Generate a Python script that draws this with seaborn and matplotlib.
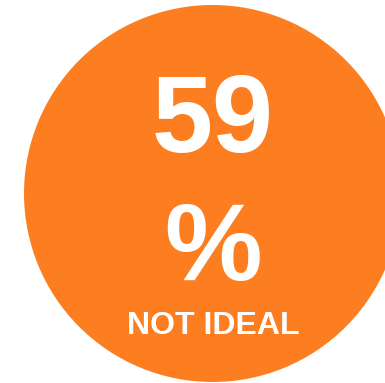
import matplotlib
matplotlib.use("Agg")
import matplotlib.pyplot as plt
import matplotlib.patches as mpatches
import seaborn as sns

# Headline figure for the badge
value = [59]
unit = ["%"]
status = ["NOT IDEAL"]
badge_color = "#fd7e20"

sns.set_theme(style="white")
plt.rcParams["font.family"] = ["Liberation Sans", "DejaVu Sans"]

W, H = 385, 383
fig = plt.figure(figsize=(W / 100, H / 100), dpi=100)
ax = fig.add_axes([0, 0, 1, 1])
ax.set_xlim(0, W)
ax.set_ylim(H, 0)
ax.set_axis_off()

# Orange disc behind the text
ax.add_patch(mpatches.Circle((212.5, 193.5), 188.5, color=badge_color, lw=0))

ax.text(213, 152, f"{value[0]}", color="white", fontsize=79, fontweight="bold",
        ha="center", va="baseline")
ax.text(213, 280, unit[0], color="white", fontsize=79, fontweight="bold",
        ha="center", va="baseline")
ax.text(213.5, 334, status[0], color="white", fontsize=23, fontweight="bold",
        ha="center", va="baseline")

fig.savefig("out.png", dpi=100)
